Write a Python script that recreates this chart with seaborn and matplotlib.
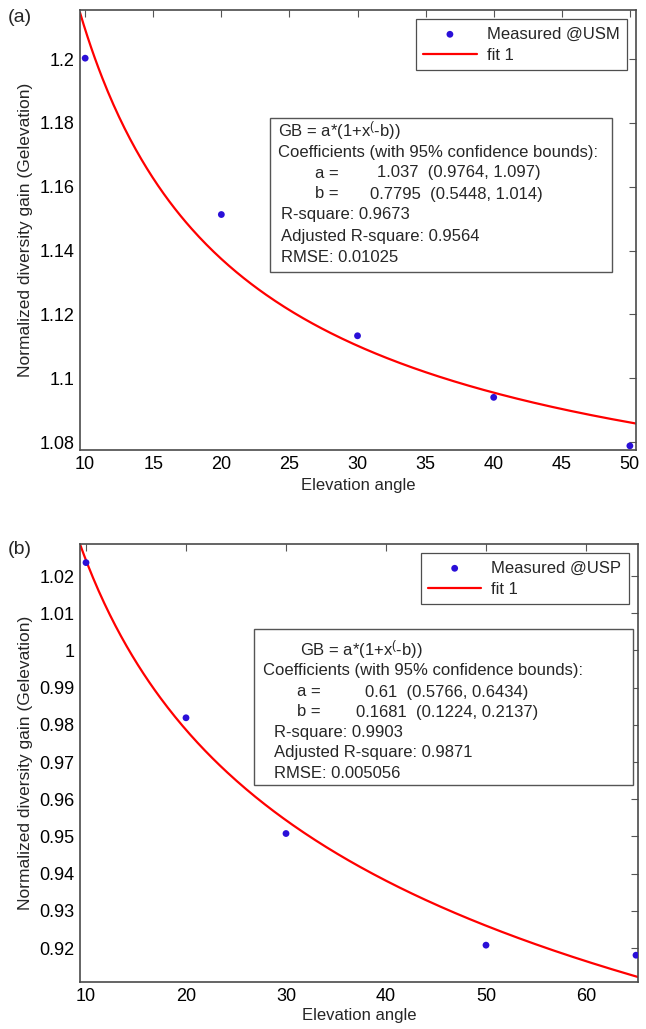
import numpy as np
import pandas as pd
import matplotlib
matplotlib.use("Agg")
import matplotlib.pyplot as plt
import seaborn as sns
from matplotlib.patches import Rectangle

# (a) measured at USM
usm_angle = [10, 20, 30, 40, 50]
usm_gain = [1.2003, 1.1513, 1.1133, 1.0940, 1.0788]
usm_a, usm_b = 1.037, 0.7795
usm_xticks = [10, 15, 20, 25, 30, 35, 40, 45, 50]
usm_yticks = [1.08, 1.1, 1.12, 1.14, 1.16, 1.18, 1.2]
usm_yticklabels = ["1.08", "1.1", "1.12", "1.14", "1.16", "1.18", "1.2"]

# (b) measured at USP
usp_angle = [10, 20, 30, 50, 65]
usp_gain = [1.0236, 0.9819, 0.9508, 0.9208, 0.9181]
usp_a, usp_b = 0.61, 0.1681
usp_xticks = [10, 20, 30, 40, 50, 60]
usp_yticks = [0.92, 0.93, 0.94, 0.95, 0.96, 0.97, 0.98, 0.99, 1.0, 1.01, 1.02]
usp_yticklabels = ["0.92", "0.93", "0.94", "0.95", "0.96", "0.97", "0.98", "0.99", "1", "1.01", "1.02"]

sns.set_theme(style="white")
plt.rcParams["font.family"] = ["Liberation Sans", "DejaVu Sans"]
plt.rcParams["mathtext.fontset"] = "custom"
plt.rcParams["mathtext.rm"] = "Liberation Sans"
plt.rcParams["mathtext.it"] = "Liberation Sans"

W, H = 646, 1029
fig = plt.figure(figsize=(W / 100, H / 100), dpi=100)

def px(x, y):
    return x / W, 1 - y / H

def add_axes(left, top, right, bottom):
    return fig.add_axes([left / W, 1 - bottom / H, (right - left) / W, (bottom - top) / H])

ax_a = add_axes(80, 10, 636, 450)
ax_b = add_axes(80, 544, 638, 982)

panels = [
    (ax_a, usm_angle, usm_gain, usm_a, usm_b, (9.62, 50.45), (1.0775, 1.2154),
     usm_xticks, usm_yticks, usm_yticklabels, "Measured @USM"),
    (ax_b, usp_angle, usp_gain, usp_a, usp_b, (9.4, 65.2), (0.9109, 1.0286),
     usp_xticks, usp_yticks, usp_yticklabels, "Measured @USP"),
]

for ax, xs, ys, a, b, xlim, ylim, xt, yt, ytl, name in panels:
    measured = pd.DataFrame({"angle": xs, "gain": ys})
    xfit = np.linspace(xlim[0], xlim[1], 300)
    fit = pd.DataFrame({"angle": xfit, "gain": a * (1 + xfit ** (-b))})
    sns.scatterplot(data=measured, x="angle", y="gain", ax=ax, color="#2a0fd8",
                    s=24, edgecolor="none", label=name, zorder=3)
    sns.lineplot(data=fit, x="angle", y="gain", ax=ax, color="#ff0000",
                 linewidth=1.6, label="fit 1", zorder=2)
    ax.set_xlim(*xlim)
    ax.set_ylim(*ylim)
    ax.set_xticks(xt)
    ax.set_yticks(yt)
    ax.set_yticklabels(ytl)
    ax.tick_params(direction="in", length=5, width=0.8, color="#555555",
                   labelsize=13, top=True, right=True, pad=4, labelcolor="black")
    for sp in ax.spines.values():
        sp.set_visible(True)
        sp.set_color("#4a4a4a")
        sp.set_linewidth(1.2)
    ax.set_xlabel("Elevation angle", fontsize=12)
    ax.set_ylabel("Normalized diversity gain (Gelevation)", fontsize=12.5)
    ax.yaxis.set_label_coords(-0.085, 0.5)
    leg = ax.legend(loc="upper right", fontsize=12, frameon=True, fancybox=False,
                    borderpad=0.45, handlelength=3.2, handletextpad=0.6,
                    labelspacing=0.35, borderaxespad=0.55, markerscale=1.0)
    leg.get_frame().set_edgecolor("#222222")
    leg.get_frame().set_linewidth(0.9)

ax_a.xaxis.set_label_coords(0.5, -0.064)
ax_b.xaxis.set_label_coords(0.5, -0.059)

fig.text(*px(8, 17), "(a)", fontsize=14, va="center")
fig.text(*px(8, 550), "(b)", fontsize=14, va="center")

# fit result boxes
usm_box = (270, 118, 612, 272)
usm_lines = [
    (278, 131, r"GB = a*(1+x$^{(}$-b))"),
    (278, 152, "Coefficients (with 95% confidence bounds):"),
    (315, 173, "a ="), (377, 173, "1.037  (0.9764, 1.097)"),
    (315, 194, "b ="), (370, 194, "0.7795  (0.5448, 1.014)"),
    (281, 215, "R-square: 0.9673"),
    (281, 236, "Adjusted R-square: 0.9564"),
    (281, 257, "RMSE: 0.01025"),
]
usp_box = (254, 629, 633, 785)
usp_lines = [
    (300, 650, r"GB = a*(1+x$^{(}$-b))"),
    (263, 671, "Coefficients (with 95% confidence bounds):"),
    (297, 692, "a ="), (365, 692, "0.61  (0.5766, 0.6434)"),
    (297, 712, "b ="), (356, 712, "0.1681  (0.1224, 0.2137)"),
    (274, 732, "R-square: 0.9903"),
    (274, 753, "Adjusted R-square: 0.9871"),
    (274, 773, "RMSE: 0.005056"),
]

for (l, t, r, btm), lines in [(usm_box, usm_lines), (usp_box, usp_lines)]:
    fig.patches.append(Rectangle(px(l, btm), (r - l) / W, (btm - t) / H,
                                 transform=fig.transFigure, facecolor="white",
                                 edgecolor="#555555", linewidth=1.0, zorder=5))
    for x, y, s in lines:
        fig.text(*px(x, y), s, fontsize=12, va="center", ha="left", zorder=6)

fig.savefig("out.png", dpi=100)
